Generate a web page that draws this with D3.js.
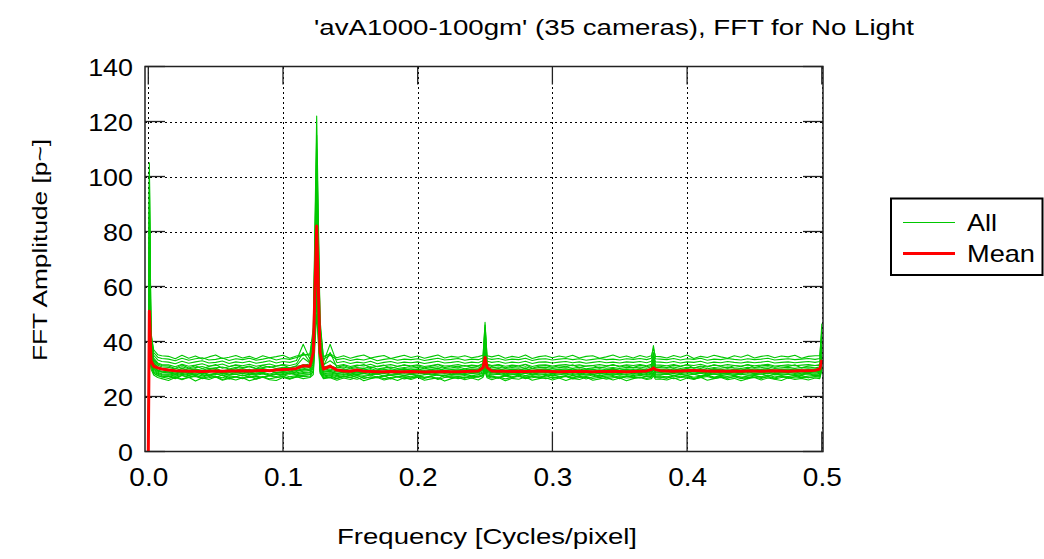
<!DOCTYPE html>
<html><head><meta charset="utf-8">
<script src="https://cdn.jsdelivr.net/npm/d3@7"></script>
<style>html,body{margin:0;padding:0;background:#fff;}svg{display:block;font-family:"Liberation Sans",Arial,sans-serif;}</style>
</head><body>
<svg id="chart" width="1044" height="559"></svg>
<script>
const titleText = "'avA1000-100gm' (35 cameras), FFT for No Light";
const xLabel = "Frequency [Cycles/pixel]";
const yLabel = "FFT Amplitude [p~]";
const legendLabels = ["All", "Mean"];
const xTicks = [0, 0.1, 0.2, 0.3, 0.4, 0.5];
const yTicks = [0, 20, 40, 60, 80, 100, 120, 140];

const freqs = [
 0, 0.0008, 0.002, 0.004, 0.007, 0.01,
 0.015, 0.02, 0.025, 0.03, 0.035, 0.04, 0.045, 0.05, 0.055, 0.06, 0.065,
 0.07, 0.075, 0.08, 0.085, 0.09, 0.095, 0.1, 0.105, 0.11, 0.115, 0.12,
 0.1225, 0.125, 0.1275, 0.13,
 0.135, 0.14, 0.145, 0.15, 0.155, 0.16, 0.165, 0.17, 0.175, 0.18, 0.185, 0.19,
 0.195, 0.2, 0.205, 0.21, 0.215, 0.22, 0.225, 0.23, 0.235, 0.24, 0.245,
 0.2485, 0.25, 0.2515,
 0.255, 0.26, 0.265, 0.27, 0.275, 0.28, 0.285, 0.29, 0.295, 0.3, 0.305, 0.31,
 0.315, 0.32, 0.325, 0.33, 0.335, 0.34, 0.345, 0.35, 0.355, 0.36, 0.365, 0.37,
 0.3735, 0.375, 0.3765,
 0.38, 0.385, 0.39, 0.395, 0.4, 0.405, 0.41, 0.415, 0.42, 0.425, 0.43, 0.435,
 0.44, 0.445, 0.45, 0.455, 0.46, 0.465, 0.47, 0.475, 0.48, 0.485, 0.49, 0.495,
 0.4985, 0.5
];

const meanValues = [
 0, 51, 33, 31, 30.4, 30.0,
 29.6, 29.4, 29.3, 29.2, 29.2, 29.1, 29.2, 29.3, 29.2, 29.3, 29.3,
 29.4, 29.3, 29.4, 29.5, 29.4, 29.6, 29.8, 29.9, 30.2, 31.2, 31.0,
 36, 82, 36, 30.0,
 31.0, 29.6, 29.3, 29.2, 29.6, 29.2, 29.1, 29.0, 29.0, 29.1, 29.0, 29.0,
 29.1, 29.0, 28.9, 29.0, 29.0, 29.1, 29.0, 29.0, 29.1, 29.2, 29.3,
 30.5, 34.2, 30.5,
 29.3, 29.2, 29.2, 29.1, 29.2, 29.1, 29.2, 29.3, 29.2, 29.1, 29.0, 29.1,
 29.1, 29.2, 29.1, 29.0, 29.1, 29.1, 29.2, 29.1, 29.0, 29.1, 29.2, 29.3,
 29.8, 30.4, 29.8,
 29.4, 29.3, 29.2, 29.3, 29.4, 29.5, 29.4, 29.3, 29.2, 29.3, 29.2, 29.3,
 29.2, 29.3, 29.3, 29.2, 29.3, 29.4, 29.3, 29.2, 29.3, 29.4, 29.4, 29.5,
 30.0, 33.3
];

const camera01 = [
 0, 40, 31.0, 28.4, 27.6, 27.1,
 26.6, 27.2, 26.4, 26.9, 27.3, 26.5, 26.8, 27.4, 26.2, 26.9, 27.1,
 26.5, 27.0, 26.7, 27.3, 26.4, 26.9, 27.2, 26.6, 27.0, 27.4, 27.1,
 29.5, 55, 29.0, 26.8,
 27.0, 26.5, 27.2, 26.8, 26.3, 27.1, 26.7, 27.3, 26.5, 26.9, 27.2, 26.4,
 26.8, 27.0, 26.6, 27.3, 26.2, 26.9, 27.1, 26.5, 27.0, 26.7, 27.2,
 27.5, 30.0, 27.2,
 26.7, 27.1, 26.4, 26.9, 27.3, 26.6, 26.8, 27.2, 26.5, 27.0, 26.7, 27.3,
 26.4, 26.9, 27.1, 26.6, 27.0, 26.3, 26.8, 27.2, 26.7, 26.9, 27.1, 26.6,
 27.0, 28.0, 26.9,
 26.8, 27.2, 26.5, 26.9, 27.1, 26.4, 26.8, 27.3, 26.6, 27.0, 26.7, 27.2,
 26.5, 26.9, 27.0, 26.6, 27.2, 26.4, 26.9, 27.1, 26.7, 27.0, 26.8, 27.2,
 27.0, 30.0
];
const camera02 = [
 0, 45, 32.0, 29.0, 28.1, 27.6,
 27.5, 26.9, 27.7, 27.1, 27.6, 27.0, 27.8, 27.3, 26.8, 27.5, 27.2,
 27.8, 27.1, 27.4, 26.9, 27.6, 27.3, 27.9, 27.2, 27.6, 27.8, 28.0,
 30.5, 60, 30.0, 27.5,
 27.8, 27.2, 27.5, 26.9, 27.6, 27.3, 27.8, 27.0, 27.4, 27.7, 27.1, 27.5,
 27.2, 27.7, 27.0, 27.4, 27.8, 27.1, 27.5, 27.3, 27.6, 27.0, 27.4,
 28.0, 30.5, 27.8,
 27.4, 27.0, 27.6, 27.2, 27.8, 27.1, 27.5, 26.9, 27.4, 27.7, 27.2, 27.6,
 27.0, 27.5, 27.3, 27.8, 27.1, 27.4, 27.6, 27.0, 27.5, 27.2, 27.7, 27.3,
 27.6, 29.0, 27.4,
 27.5, 27.1, 27.7, 27.2, 27.6, 27.0, 27.4, 27.8, 27.1, 27.5, 27.3, 27.7,
 27.0, 27.4, 27.6, 27.2, 27.8, 27.1, 27.5, 27.3, 27.6, 27.1, 27.4, 27.7,
 27.6, 30.5
];
const camera03 = [
 0, 50, 33.0, 29.5, 28.4, 28.0,
 27.9, 27.4, 28.1, 27.6, 28.2, 27.5, 27.8, 28.3, 27.6, 27.9, 28.1,
 27.5, 28.0, 27.7, 28.2, 27.6, 28.1, 27.8, 28.3, 27.9, 28.4, 28.6,
 31.0, 65, 31.0, 28.0,
 28.2, 27.6, 28.0, 27.5, 28.1, 27.7, 27.9, 28.2, 27.4, 27.8, 28.0, 27.6,
 28.1, 27.5, 27.9, 28.2, 27.7, 27.6, 28.0, 27.8, 28.1, 27.5, 27.9,
 28.5, 31.0, 28.3,
 27.8, 28.1, 27.5, 27.9, 28.2, 27.6, 28.0, 27.7, 28.1, 27.4, 27.9, 28.2,
 27.6, 28.0, 27.8, 28.1, 27.5, 27.9, 28.2, 27.7, 28.0, 27.6, 28.1, 27.8,
 28.1, 30.0, 27.9,
 27.9, 28.2, 27.6, 28.0, 27.7, 28.1, 27.5, 27.9, 28.2, 27.6, 28.0, 27.8,
 28.1, 27.7, 27.9, 28.2, 27.5, 28.0, 27.8, 28.1, 27.6, 27.9, 28.2, 27.8,
 28.0, 31.0
];
const camera04 = [
 0, 55, 34.0, 30.0, 28.8, 28.3,
 28.2, 27.8, 28.4, 27.9, 28.1, 28.5, 27.7, 28.0, 28.3, 27.8, 28.2,
 28.4, 27.9, 28.1, 28.5, 27.8, 28.3, 28.0, 28.6, 28.2, 28.7, 28.9,
 32.0, 70, 32.0, 28.3,
 28.6, 28.0, 28.3, 27.8, 28.2, 28.5, 27.9, 28.1, 28.4, 27.7, 28.0, 28.3,
 27.9, 28.2, 28.5, 27.8, 28.1, 28.3, 27.9, 28.2, 28.0, 28.4, 28.1,
 29.0, 32.0, 28.8,
 28.1, 28.4, 27.9, 28.2, 28.0, 28.5, 27.8, 28.1, 28.3, 27.9, 28.2, 28.4,
 28.0, 28.3, 27.8, 28.1, 28.4, 28.0, 28.2, 27.9, 28.3, 28.1, 28.4, 28.0,
 28.5, 30.5, 28.3,
 28.2, 28.0, 28.4, 27.9, 28.3, 28.1, 28.5, 27.8, 28.2, 28.0, 28.4, 28.1,
 27.9, 28.3, 28.0, 28.2, 28.5, 27.9, 28.1, 28.3, 28.0, 28.2, 28.4, 28.1,
 28.4, 31.0
];
const camera05 = [
 0, 60, 35.0, 30.5, 29.2, 28.8,
 28.6, 28.2, 28.8, 28.3, 28.5, 28.9, 28.1, 28.4, 28.7, 28.2, 28.6,
 28.9, 28.3, 28.5, 28.8, 28.2, 28.7, 28.4, 29.0, 28.6, 29.2, 29.5,
 33.0, 75, 33.0, 28.8,
 29.0, 28.4, 28.7, 28.2, 28.6, 28.9, 28.3, 28.5, 28.8, 28.1, 28.4, 28.7,
 28.3, 28.6, 28.9, 28.2, 28.5, 28.7, 28.3, 28.6, 28.4, 28.8, 28.5,
 29.5, 33.0, 29.2,
 28.5, 28.8, 28.3, 28.6, 28.4, 28.9, 28.2, 28.5, 28.7, 28.3, 28.6, 28.8,
 28.4, 28.7, 28.2, 28.5, 28.8, 28.4, 28.6, 28.3, 28.7, 28.5, 28.8, 28.4,
 28.9, 31.0, 28.7,
 28.6, 28.4, 28.8, 28.3, 28.7, 28.5, 28.9, 28.2, 28.6, 28.4, 28.8, 28.5,
 28.3, 28.7, 28.4, 28.6, 28.9, 28.3, 28.5, 28.7, 28.4, 28.6, 28.8, 28.5,
 28.8, 32.0
];
const camera06 = [
 0, 66, 36.0, 31.0, 29.6, 29.2,
 29.0, 28.5, 29.2, 28.7, 29.1, 28.6, 29.3, 28.8, 28.4, 29.0, 28.7,
 29.2, 28.6, 29.0, 28.8, 29.3, 28.7, 29.1, 28.9, 29.4, 29.6, 30.0,
 34.0, 80, 34.0, 29.2,
 29.5, 28.9, 29.1, 28.6, 29.0, 28.8, 29.3, 28.5, 28.9, 29.2, 28.7, 29.0,
 28.8, 29.1, 28.6, 29.0, 29.3, 28.7, 28.9, 29.2, 28.6, 29.0, 28.8,
 30.0, 34.0, 29.6,
 28.9, 29.2, 28.7, 29.0, 28.8, 29.3, 28.6, 29.0, 29.1, 28.7, 29.0, 29.2,
 28.8, 29.1, 28.6, 28.9, 29.2, 28.8, 29.0, 28.7, 29.1, 28.9, 29.2, 28.8,
 29.3, 31.5, 29.1,
 29.0, 28.8, 29.2, 28.7, 29.1, 28.9, 29.3, 28.6, 29.0, 28.8, 29.2, 28.9,
 28.7, 29.1, 28.8, 29.0, 29.3, 28.7, 28.9, 29.1, 28.8, 29.0, 29.2, 28.9,
 29.2, 33.0
];
const camera07 = [
 0, 72, 37.0, 31.8, 30.2, 29.7,
 29.4, 28.9, 29.6, 29.1, 29.5, 29.0, 29.7, 29.2, 28.8, 29.4, 29.1,
 29.6, 29.0, 29.3, 29.7, 29.1, 29.5, 29.2, 29.8, 29.5, 30.1, 30.6,
 35.5, 85, 35.0, 29.6,
 30.0, 29.3, 29.6, 29.0, 29.4, 29.2, 29.7, 28.9, 29.3, 29.6, 29.1, 29.4,
 29.2, 29.5, 29.0, 29.4, 29.7, 29.1, 29.3, 29.6, 29.0, 29.4, 29.2,
 30.5, 35.0, 30.0,
 29.3, 29.6, 29.1, 29.4, 29.2, 29.7, 29.0, 29.4, 29.5, 29.1, 29.4, 29.6,
 29.2, 29.5, 29.0, 29.3, 29.6, 29.2, 29.4, 29.1, 29.5, 29.3, 29.6, 29.2,
 29.7, 32.0, 29.5,
 29.4, 29.2, 29.6, 29.1, 29.5, 29.3, 29.7, 29.0, 29.4, 29.2, 29.6, 29.3,
 29.1, 29.5, 29.2, 29.4, 29.7, 29.1, 29.3, 29.5, 29.2, 29.4, 29.6, 29.3,
 29.6, 34.0
];
const camera08 = [
 0, 78, 38.0, 32.5, 30.8, 30.2,
 29.9, 29.4, 30.2, 29.6, 30.0, 29.5, 30.3, 29.8, 29.3, 29.9, 29.6,
 30.1, 29.5, 29.8, 30.2, 29.6, 30.0, 29.7, 30.4, 30.0, 30.6, 31.2,
 37.0, 90, 36.5, 30.1,
 30.6, 29.8, 30.1, 29.5, 29.9, 29.7, 30.2, 29.4, 29.8, 30.1, 29.6, 29.9,
 29.7, 30.0, 29.5, 29.9, 30.2, 29.6, 29.8, 30.1, 29.5, 29.9, 29.7,
 31.0, 37.0, 30.5,
 29.8, 30.1, 29.6, 29.9, 29.7, 30.2, 29.5, 29.9, 30.0, 29.6, 29.9, 30.1,
 29.7, 30.0, 29.5, 29.8, 30.1, 29.7, 29.9, 29.6, 30.0, 29.8, 30.1, 29.7,
 30.2, 33.0, 30.0,
 29.9, 29.7, 30.1, 29.6, 30.0, 29.8, 30.2, 29.5, 29.9, 29.7, 30.1, 29.8,
 29.6, 30.0, 29.7, 29.9, 30.2, 29.6, 29.8, 30.0, 29.7, 29.9, 30.1, 29.8,
 30.1, 35.0
];
const camera09 = [
 0, 84, 39.0, 33.0, 31.4, 30.8,
 30.6, 30.0, 30.8, 30.1, 30.5, 30.9, 30.2, 30.4, 30.7, 30.0, 30.6,
 30.3, 30.8, 30.1, 30.5, 30.9, 30.2, 30.6, 30.4, 31.0, 31.4, 31.8,
 38.0, 95, 38.0, 30.8,
 31.2, 30.4, 30.7, 30.1, 30.5, 30.3, 30.8, 30.0, 30.4, 30.7, 30.2, 30.5,
 30.3, 30.6, 30.1, 30.5, 30.8, 30.2, 30.4, 30.7, 30.1, 30.5, 30.3,
 31.5, 40.0, 31.0,
 30.4, 30.7, 30.2, 30.5, 30.3, 30.8, 30.1, 30.5, 30.6, 30.2, 30.5, 30.7,
 30.3, 30.6, 30.1, 30.4, 30.7, 30.3, 30.5, 30.2, 30.6, 30.4, 30.7, 30.3,
 30.8, 34.0, 30.6,
 30.5, 30.3, 30.7, 30.2, 30.6, 30.4, 30.8, 30.1, 30.5, 30.3, 30.7, 30.4,
 30.2, 30.6, 30.3, 30.5, 30.8, 30.2, 30.4, 30.6, 30.3, 30.5, 30.7, 30.4,
 30.7, 37.0
];
const camera10 = [
 0, 90, 40.0, 34.0, 32.2, 31.6,
 31.5, 30.8, 31.7, 31.0, 31.4, 31.9, 31.1, 31.3, 31.8, 30.9, 31.5,
 31.2, 31.7, 31.0, 31.4, 31.8, 31.1, 31.6, 31.3, 31.9, 36.0, 32.5,
 40.0, 100, 42.0, 31.5,
 33.0, 31.2, 31.6, 30.9, 31.4, 31.1, 31.7, 30.8, 31.3, 31.6, 31.0, 31.4,
 31.2, 31.5, 30.9, 31.3, 31.7, 31.1, 31.3, 31.6, 31.0, 31.4, 31.2,
 32.0, 42.0, 31.8,
 31.3, 31.6, 31.0, 31.4, 31.2, 31.7, 30.9, 31.4, 31.5, 31.1, 31.4, 31.6,
 31.2, 31.5, 31.0, 31.3, 31.6, 31.2, 31.4, 31.1, 31.5, 31.3, 31.6, 31.2,
 31.7, 35.0, 31.5,
 31.4, 31.2, 31.6, 31.1, 31.5, 31.3, 31.7, 31.0, 31.4, 31.2, 31.6, 31.3,
 31.1, 31.5, 31.2, 31.4, 31.7, 31.1, 31.3, 31.5, 31.2, 31.4, 31.6, 31.3,
 31.6, 39.0
];
const camera11 = [
 0, 97, 41.0, 35.0, 33.3, 32.7,
 32.5, 31.9, 32.8, 32.1, 32.6, 33.0, 32.2, 32.4, 32.9, 32.0, 32.6,
 32.3, 32.8, 32.1, 32.5, 33.0, 32.2, 32.7, 32.4, 33.1, 39.0, 33.5,
 42.0, 110, 45.0, 32.5,
 39.0, 32.3, 32.7, 32.0, 32.5, 32.2, 32.8, 31.9, 32.4, 32.7, 32.1, 32.5,
 32.3, 32.6, 32.0, 32.4, 32.8, 32.2, 32.4, 32.7, 32.1, 32.5, 32.3,
 33.0, 45.0, 32.8,
 32.4, 32.7, 32.1, 32.5, 32.3, 32.8, 32.0, 32.5, 32.6, 32.2, 32.5, 32.7,
 32.3, 32.6, 32.1, 32.4, 32.7, 32.3, 32.5, 32.2, 32.6, 32.4, 32.7, 32.3,
 32.8, 36.0, 32.6,
 32.5, 32.3, 32.7, 32.2, 32.6, 32.4, 32.8, 32.1, 32.5, 32.3, 32.7, 32.4,
 32.2, 32.6, 32.3, 32.5, 32.8, 32.2, 32.4, 32.6, 32.3, 32.5, 32.7, 32.4,
 32.7, 42.0
];
const camera12 = [
 0, 105, 43.5, 36.0, 34.3, 33.8,
 33.6, 33.0, 33.9, 33.2, 33.7, 34.1, 33.3, 33.5, 34.0, 33.1, 33.7,
 33.4, 33.9, 33.2, 33.6, 34.1, 33.3, 33.8, 33.5, 34.2, 35.0, 35.5,
 45.0, 122, 48.0, 33.6,
 35.0, 33.4, 33.8, 33.1, 33.6, 33.3, 33.9, 33.0, 33.5, 33.8, 33.2, 33.6,
 33.4, 33.7, 33.1, 33.5, 33.9, 33.3, 33.5, 33.8, 33.2, 33.6, 33.4,
 34.0, 47.0, 33.8,
 33.5, 33.8, 33.2, 33.6, 33.4, 33.9, 33.1, 33.6, 33.7, 33.3, 33.6, 33.8,
 33.4, 33.7, 33.2, 33.5, 33.8, 33.4, 33.6, 33.3, 33.7, 33.5, 33.8, 33.4,
 33.9, 38.5, 33.7,
 33.6, 33.4, 33.8, 33.3, 33.7, 33.5, 33.9, 33.2, 33.6, 33.4, 33.8, 33.5,
 33.3, 33.7, 33.4, 33.6, 33.9, 33.3, 33.5, 33.7, 33.4, 33.6, 33.8, 33.5,
 33.8, 46.5
];
const camera13 = [
 0, 35, 30.0, 27.8, 26.9, 26.5,
 25.8, 26.9, 26.1, 27.0, 25.6, 26.7, 26.2, 27.1, 25.9, 26.6, 26.0,
 26.8, 25.7, 26.4, 27.0, 26.1, 25.8, 26.9, 26.3, 27.2, 26.5, 26.9,
 28.0, 50, 28.5, 26.5,
 26.8, 25.9, 26.7, 26.2, 27.0, 25.7, 26.5, 26.9, 26.0, 26.6, 25.8, 26.8,
 26.2, 27.0, 25.9, 26.4, 26.8, 25.6, 26.5, 26.9, 26.1, 26.7, 26.0,
 27.0, 29.0, 26.8,
 26.1, 26.9, 25.7, 26.6, 26.3, 27.1, 25.9, 26.5, 26.8, 26.0, 26.7, 25.8,
 26.6, 26.2, 27.0, 25.9, 26.4, 26.8, 26.0, 26.7, 25.7, 26.5, 26.9, 26.2,
 26.5, 27.5, 26.3,
 26.4, 26.0, 26.8, 25.8, 26.7, 26.2, 27.0, 25.9, 26.5, 26.9, 26.1, 26.6,
 25.7, 26.5, 26.9, 26.0, 26.7, 26.3, 25.8, 26.8, 26.2, 26.6, 26.0, 26.7,
 26.5, 29.5
];
const camera14 = [
 0, 42, 31.5, 28.6, 27.6, 27.2,
 27.4, 26.5, 27.6, 26.8, 27.7, 26.6, 27.3, 26.9, 27.8, 26.4, 27.2,
 26.7, 27.5, 26.3, 27.1, 27.6, 26.8, 27.4, 26.5, 27.3, 27.7, 27.9,
 29.0, 58, 29.5, 27.1,
 27.5, 26.6, 27.4, 26.9, 27.7, 26.5, 27.2, 26.8, 27.6, 26.4, 27.3, 27.0,
 26.6, 27.5, 26.9, 27.2, 26.5, 27.7, 26.8, 27.3, 26.6, 27.4, 27.0,
 27.6, 30.0, 27.4,
 27.2, 26.6, 27.5, 26.8, 27.6, 26.5, 27.3, 26.9, 27.7, 26.6, 27.1, 27.4,
 26.7, 27.5, 26.4, 27.2, 27.6, 26.8, 27.3, 26.5, 27.4, 27.0, 26.7, 27.5,
 27.3, 28.5, 27.1,
 27.1, 26.6, 27.5, 26.9, 27.7, 26.5, 27.2, 27.6, 26.8, 27.3, 26.6, 27.4,
 27.0, 26.5, 27.6, 26.9, 27.3, 26.7, 27.5, 26.6, 27.2, 27.7, 26.8, 27.3,
 27.4, 30.0
];
const camera15 = [
 0, 63, 35.5, 30.8, 29.4, 29.0,
 28.9, 28.0, 29.3, 28.4, 29.1, 27.9, 28.8, 29.4, 28.2, 28.7, 29.2,
 28.3, 29.0, 28.1, 28.9, 29.4, 28.5, 28.8, 28.2, 29.1, 29.8, 29.9,
 33.5, 78, 33.5, 28.9,
 29.2, 28.3, 28.9, 28.0, 29.1, 28.6, 29.3, 28.2, 28.8, 29.0, 28.1, 28.9,
 28.4, 29.2, 28.0, 28.7, 29.3, 28.5, 28.9, 28.2, 29.0, 28.4, 28.8,
 29.8, 33.5, 29.4,
 28.7, 29.2, 28.1, 28.9, 28.4, 29.3, 28.0, 28.8, 29.1, 28.3, 28.9, 28.5,
 29.2, 28.2, 28.8, 29.0, 28.1, 28.7, 29.3, 28.4, 28.9, 28.2, 29.1, 28.6,
 29.1, 31.2, 28.9,
 28.8, 28.2, 29.1, 28.5, 29.3, 28.0, 28.9, 28.4, 29.2, 28.6, 28.1, 29.0,
 28.5, 29.3, 28.2, 28.8, 29.1, 28.3, 28.9, 28.6, 29.2, 28.1, 28.8, 29.0,
 29.0, 32.5
];
const camera16 = [
 0, 75, 37.5, 32.2, 30.5, 30.0,
 29.8, 29.0, 30.3, 29.2, 30.0, 28.9, 29.7, 30.4, 29.1, 29.6, 30.2,
 29.3, 29.9, 29.0, 30.1, 29.4, 29.8, 30.3, 29.2, 30.0, 31.5, 30.8,
 36.0, 88, 36.0, 29.8,
 31.5, 29.3, 30.0, 29.1, 29.8, 30.3, 29.2, 29.7, 30.1, 29.0, 29.6, 30.2,
 29.4, 29.9, 29.1, 29.7, 30.3, 29.2, 29.8, 29.5, 30.0, 29.3, 29.7,
 30.8, 36.0, 30.3,
 29.6, 30.2, 29.1, 29.8, 29.4, 30.3, 29.0, 29.7, 30.0, 29.3, 29.9, 29.5,
 30.2, 29.2, 29.8, 30.0, 29.1, 29.6, 30.3, 29.4, 29.9, 29.2, 30.1, 29.5,
 30.0, 32.5, 29.8,
 29.7, 29.2, 30.1, 29.5, 30.3, 29.0, 29.8, 29.4, 30.2, 29.6, 29.1, 30.0,
 29.5, 30.3, 29.2, 29.8, 30.1, 29.3, 29.9, 29.6, 30.2, 29.1, 29.8, 30.0,
 30.0, 34.5
];
const camera17 = [
 0, 87, 39.5, 33.5, 31.8, 31.3,
 31.1, 30.2, 31.5, 30.4, 31.2, 30.1, 30.9, 31.6, 30.3, 30.8, 31.4,
 30.5, 31.1, 30.2, 31.3, 30.6, 31.0, 31.5, 30.4, 31.2, 34.0, 32.2,
 39.0, 98, 40.0, 31.1,
 36.0, 30.6, 31.3, 30.4, 31.1, 31.6, 30.5, 31.0, 31.4, 30.3, 30.9, 31.5,
 30.7, 31.2, 30.4, 31.0, 31.6, 30.5, 31.1, 30.8, 31.3, 30.6, 31.0,
 31.8, 41.0, 31.5,
 30.9, 31.5, 30.4, 31.1, 30.7, 31.6, 30.3, 31.0, 31.3, 30.6, 31.2, 30.8,
 31.5, 30.5, 31.1, 31.3, 30.4, 30.9, 31.6, 30.7, 31.2, 30.5, 31.4, 30.8,
 31.3, 34.5, 31.1,
 31.0, 30.5, 31.4, 30.8, 31.6, 30.3, 31.1, 30.7, 31.5, 30.9, 30.4, 31.3,
 30.8, 31.6, 30.5, 31.1, 31.4, 30.6, 31.2, 30.9, 31.5, 30.4, 31.1, 31.3,
 31.3, 38.0
];
const camera18 = [
 0, 102, 42.5, 37.0, 35.2, 34.8,
 34.6, 33.7, 35.0, 33.9, 34.7, 33.6, 34.4, 35.1, 33.8, 34.3, 34.9,
 34.0, 34.6, 33.7, 34.8, 34.1, 34.5, 35.0, 33.9, 34.7, 35.3, 35.0,
 43.0, 115, 46.0, 34.5,
 35.5, 34.1, 34.8, 33.9, 34.6, 35.1, 34.0, 34.5, 34.9, 33.8, 34.4, 35.0,
 34.2, 34.7, 33.9, 34.5, 35.1, 34.0, 34.6, 34.3, 34.8, 34.1, 34.5,
 35.0, 46.0, 34.8,
 34.4, 35.0, 33.9, 34.6, 34.2, 35.1, 33.8, 34.5, 34.8, 34.1, 34.7, 34.3,
 35.0, 34.0, 34.6, 34.8, 33.9, 34.4, 35.1, 34.2, 34.7, 34.0, 34.9, 34.3,
 34.8, 37.5, 34.6,
 34.5, 34.0, 34.9, 34.3, 35.1, 33.8, 34.6, 34.2, 35.0, 34.4, 33.9, 34.8,
 34.3, 35.1, 34.0, 34.6, 34.9, 34.1, 34.7, 34.4, 35.0, 33.9, 34.6, 34.8,
 34.8, 44.0
];
const cameraSeries = [camera01, camera02, camera03, camera04, camera05, camera06,
  camera07, camera08, camera09, camera10, camera11, camera12,
  camera13, camera14, camera15, camera16, camera17, camera18];

// ---------- layout ----------
const box = {left: 145, right: 823, top: 66.5, bottom: 451.5};
const x = d3.scaleLinear().domain([0, 0.5]).range([148.3, 821.8]);
const y = d3.scaleLinear().domain([0, 140]).range([box.bottom, box.top]);
const GREEN = "#00c800", RED = "#ff0000";

const svg = d3.select("#chart");

// grid
const grid = svg.append("g").attr("stroke", "#000").attr("stroke-width", 1)
  .attr("stroke-dasharray", "2,3").attr("shape-rendering", "crispEdges");
grid.selectAll("line.v").data(xTicks).join("line").attr("class", "v")
  .attr("x1", d => Math.round(x(d)) + 0.5).attr("x2", d => Math.round(x(d)) + 0.5)
  .attr("y1", box.top).attr("y2", box.bottom);
grid.selectAll("line.h").data(yTicks.slice(1, -1)).join("line").attr("class", "h")
  .attr("y1", d => Math.round(y(d)) + 0.5).attr("y2", d => Math.round(y(d)) + 0.5)
  .attr("x1", box.left).attr("x2", box.right);

// tick marks (solid, inward)
const tk = svg.append("g").attr("stroke", "#222").attr("stroke-width", 1.3);
const tl = 20;
tk.selectAll("line.l").data(yTicks).join("line")
  .attr("x1", box.left).attr("x2", box.left + tl).attr("y1", d => y(d)).attr("y2", d => y(d));
tk.selectAll("line.r").data(yTicks).join("line")
  .attr("x1", box.right - tl).attr("x2", box.right).attr("y1", d => y(d)).attr("y2", d => y(d));
tk.selectAll("line.b").data(xTicks).join("line")
  .attr("x1", d => x(d)).attr("x2", d => x(d)).attr("y1", box.bottom).attr("y2", box.bottom - tl);
tk.selectAll("line.t").data(xTicks).join("line")
  .attr("x1", d => x(d)).attr("x2", d => x(d)).attr("y1", box.top).attr("y2", box.top + 18);

// series
const line = d3.line().x(d => x(d[0])).y(d => y(d[1]));
const zip = vals => freqs.slice(0, vals.length).map((f, i) => [f, vals[i]]);
const plot = svg.append("g");
plot.selectAll("path.cam").data(cameraSeries).join("path").attr("class", "cam")
  .attr("d", d => line(zip(d))).attr("fill", "none").attr("stroke", GREEN)
  .attr("stroke-width", 1.1).attr("stroke-linejoin", "round");
plot.append("path").attr("d", line(zip(meanValues))).attr("fill", "none")
  .attr("stroke", RED).attr("stroke-width", 3).attr("stroke-linejoin", "round");

// box
svg.append("rect").attr("x", box.left).attr("y", box.top)
  .attr("width", box.right - box.left).attr("height", box.bottom - box.top)
  .attr("fill", "none").attr("stroke", "#222").attr("stroke-width", 1.5);

// axes labels through d3 axes
const sx = 1.12;
const yAx = svg.append("g").attr("transform", `translate(133,0)`)
  .call(d3.axisLeft(y).tickValues(yTicks).tickSize(0).tickPadding(0).tickFormat(d3.format("d")));
yAx.select(".domain").remove();
yAx.selectAll("text").attr("font-size", 24).attr("font-family", "Liberation Sans, Arial, sans-serif")
  .attr("fill", "#000").attr("x", 0).attr("dy", "0.36em").attr("transform", `scale(${sx},1)`);

const xAx = svg.append("g").attr("transform", `translate(0,486)`)
  .call(d3.axisBottom(x).tickValues(xTicks).tickSize(0).tickPadding(0).tickFormat(d3.format(".1f")));
xAx.select(".domain").remove();
xAx.selectAll("text").attr("font-size", 25).attr("font-family", "Liberation Sans, Arial, sans-serif")
  .attr("fill", "#000").attr("y", 0).attr("dy", 0).attr("transform", `scale(${sx},1)`);

// titles
svg.append("text").attr("x", 314).attr("y", 35).attr("font-size", 22).attr("fill", "#000")
  .attr("textLength", 600).attr("lengthAdjust", "spacingAndGlyphs").text(titleText);
svg.append("text").attr("x", 337).attr("y", 544).attr("font-size", 22).attr("fill", "#000")
  .attr("textLength", 300).attr("lengthAdjust", "spacingAndGlyphs").text(xLabel);
svg.append("text").attr("transform", "translate(47,250) rotate(-90)").attr("text-anchor", "middle")
  .attr("font-size", 21).attr("fill", "#000")
  .attr("textLength", 222).attr("lengthAdjust", "spacingAndGlyphs").text(yLabel);

// legend
const lg = svg.append("g");
lg.append("rect").attr("x", 891).attr("y", 198.5).attr("width", 151.5).attr("height", 76.5)
  .attr("fill", "#fff").attr("stroke", "#000").attr("stroke-width", 2);
const legendColors = [GREEN, RED], legendWidths = [1, 3], legendY = [222.5, 253.5];
legendLabels.forEach((lab, i) => {
  lg.append("line").attr("x1", 903).attr("x2", 955).attr("y1", legendY[i]).attr("y2", legendY[i])
    .attr("stroke", legendColors[i]).attr("stroke-width", legendWidths[i]);
});
lg.append("text").attr("x", 967).attr("y", 230.7).attr("font-size", 24).attr("fill", "#000")
  .attr("textLength", 30).attr("lengthAdjust", "spacingAndGlyphs").text(legendLabels[0]);
lg.append("text").attr("x", 967).attr("y", 261.7).attr("font-size", 24).attr("fill", "#000")
  .attr("textLength", 68).attr("lengthAdjust", "spacingAndGlyphs").text(legendLabels[1]);
</script>
</body></html>
